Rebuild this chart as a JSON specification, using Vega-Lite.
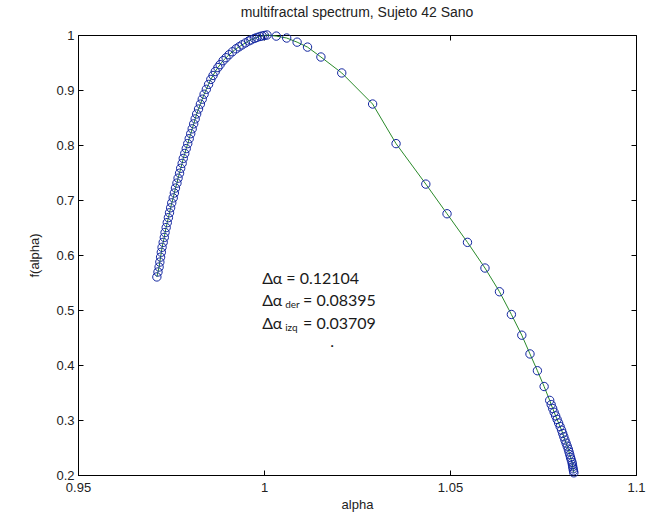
{
  "$schema": "https://vega.github.io/schema/vega-lite/v6.json",
  "width": 558,
  "height": 440,
  "autosize": {"type": "none"},
  "padding": {"left": 78, "top": 35, "right": 12, "bottom": 47},
  "background": "white",
  "title": {
    "text": "multifractal spectrum, Sujeto 42 Sano",
    "font": "Liberation Sans",
    "fontSize": 14,
    "fontWeight": "normal",
    "color": "#222222",
    "offset": 9
  },
  "config": {
    "view": {"stroke": "#000000", "strokeWidth": 1},
    "axis": {
      "grid": false,
      "domainColor": "#000000",
      "tickColor": "#000000",
      "labelFont": "Liberation Sans",
      "labelFontSize": 13,
      "labelColor": "#222222",
      "titleFont": "Liberation Sans",
      "titleFontSize": 13,
      "titleFontWeight": "normal",
      "titleColor": "#222222"
    }
  },
  "datasets": {
    "spectrum": [
      {"i": 0, "alpha": 0.9712, "f": 0.5601},
      {"i": 1, "alpha": 0.9715, "f": 0.5691},
      {"i": 2, "alpha": 0.9718, "f": 0.5781},
      {"i": 3, "alpha": 0.9720, "f": 0.5871},
      {"i": 4, "alpha": 0.9722, "f": 0.5961},
      {"i": 5, "alpha": 0.9724, "f": 0.6050},
      {"i": 6, "alpha": 0.9726, "f": 0.6140},
      {"i": 7, "alpha": 0.9729, "f": 0.6230},
      {"i": 8, "alpha": 0.9732, "f": 0.6320},
      {"i": 9, "alpha": 0.9734, "f": 0.6409},
      {"i": 10, "alpha": 0.9737, "f": 0.6499},
      {"i": 11, "alpha": 0.9740, "f": 0.6589},
      {"i": 12, "alpha": 0.9743, "f": 0.6679},
      {"i": 13, "alpha": 0.9746, "f": 0.6768},
      {"i": 14, "alpha": 0.9749, "f": 0.6858},
      {"i": 15, "alpha": 0.9752, "f": 0.6948},
      {"i": 16, "alpha": 0.9756, "f": 0.7038},
      {"i": 17, "alpha": 0.9759, "f": 0.7127},
      {"i": 18, "alpha": 0.9762, "f": 0.7217},
      {"i": 19, "alpha": 0.9766, "f": 0.7307},
      {"i": 20, "alpha": 0.9769, "f": 0.7397},
      {"i": 21, "alpha": 0.9773, "f": 0.7487},
      {"i": 22, "alpha": 0.9776, "f": 0.7576},
      {"i": 23, "alpha": 0.9780, "f": 0.7666},
      {"i": 24, "alpha": 0.9783, "f": 0.7756},
      {"i": 25, "alpha": 0.9787, "f": 0.7846},
      {"i": 26, "alpha": 0.9791, "f": 0.7935},
      {"i": 27, "alpha": 0.9795, "f": 0.8025},
      {"i": 28, "alpha": 0.9799, "f": 0.8115},
      {"i": 29, "alpha": 0.9803, "f": 0.8205},
      {"i": 30, "alpha": 0.9807, "f": 0.8294},
      {"i": 31, "alpha": 0.9811, "f": 0.8384},
      {"i": 32, "alpha": 0.9815, "f": 0.8474},
      {"i": 33, "alpha": 0.9819, "f": 0.8564},
      {"i": 34, "alpha": 0.9824, "f": 0.8654},
      {"i": 35, "alpha": 0.9829, "f": 0.8743},
      {"i": 36, "alpha": 0.9834, "f": 0.8833},
      {"i": 37, "alpha": 0.9839, "f": 0.8923},
      {"i": 38, "alpha": 0.9845, "f": 0.9013},
      {"i": 39, "alpha": 0.9851, "f": 0.9102},
      {"i": 40, "alpha": 0.9857, "f": 0.9192},
      {"i": 41, "alpha": 0.9863, "f": 0.9264},
      {"i": 42, "alpha": 0.9869, "f": 0.9336},
      {"i": 43, "alpha": 0.9876, "f": 0.9408},
      {"i": 44, "alpha": 0.9882, "f": 0.9461},
      {"i": 45, "alpha": 0.9890, "f": 0.9533},
      {"i": 46, "alpha": 0.9898, "f": 0.9587},
      {"i": 47, "alpha": 0.9906, "f": 0.9641},
      {"i": 48, "alpha": 0.9915, "f": 0.9695},
      {"i": 49, "alpha": 0.9925, "f": 0.9749},
      {"i": 50, "alpha": 0.9933, "f": 0.9785},
      {"i": 51, "alpha": 0.9941, "f": 0.9820},
      {"i": 52, "alpha": 0.9950, "f": 0.9856},
      {"i": 53, "alpha": 0.9959, "f": 0.9892},
      {"i": 54, "alpha": 0.9965, "f": 0.9910},
      {"i": 55, "alpha": 0.9974, "f": 0.9937},
      {"i": 56, "alpha": 0.9981, "f": 0.9955},
      {"i": 57, "alpha": 0.9989, "f": 0.9973},
      {"i": 58, "alpha": 0.9995, "f": 0.9982},
      {"i": 59, "alpha": 1.0001, "f": 0.9991},
      {"i": 60, "alpha": 1.0008, "f": 1.0000},
      {"i": 61, "alpha": 1.0033, "f": 0.9980},
      {"i": 62, "alpha": 1.0061, "f": 0.9945},
      {"i": 63, "alpha": 1.0089, "f": 0.9870},
      {"i": 64, "alpha": 1.0117, "f": 0.9780},
      {"i": 65, "alpha": 1.0153, "f": 0.9600},
      {"i": 66, "alpha": 1.0209, "f": 0.9310},
      {"i": 67, "alpha": 1.0292, "f": 0.8745},
      {"i": 68, "alpha": 1.0355, "f": 0.8025},
      {"i": 69, "alpha": 1.0435, "f": 0.7289},
      {"i": 70, "alpha": 1.0492, "f": 0.6750},
      {"i": 71, "alpha": 1.0547, "f": 0.6230},
      {"i": 72, "alpha": 1.0594, "f": 0.5763},
      {"i": 73, "alpha": 1.0633, "f": 0.5332},
      {"i": 74, "alpha": 1.0665, "f": 0.4919},
      {"i": 75, "alpha": 1.0693, "f": 0.4542},
      {"i": 76, "alpha": 1.0715, "f": 0.4201},
      {"i": 77, "alpha": 1.0735, "f": 0.3896},
      {"i": 78, "alpha": 1.0753, "f": 0.3609},
      {"i": 79, "alpha": 1.0768, "f": 0.3357},
      {"i": 80, "alpha": 1.0772, "f": 0.3280},
      {"i": 81, "alpha": 1.0776, "f": 0.3210},
      {"i": 82, "alpha": 1.0780, "f": 0.3140},
      {"i": 83, "alpha": 1.0784, "f": 0.3075},
      {"i": 84, "alpha": 1.0788, "f": 0.3010},
      {"i": 85, "alpha": 1.0792, "f": 0.2945},
      {"i": 86, "alpha": 1.0796, "f": 0.2880},
      {"i": 87, "alpha": 1.0800, "f": 0.2815},
      {"i": 88, "alpha": 1.0803, "f": 0.2755},
      {"i": 89, "alpha": 1.0806, "f": 0.2695},
      {"i": 90, "alpha": 1.0809, "f": 0.2635},
      {"i": 91, "alpha": 1.0812, "f": 0.2580},
      {"i": 92, "alpha": 1.0815, "f": 0.2525},
      {"i": 93, "alpha": 1.0818, "f": 0.2470},
      {"i": 94, "alpha": 1.0820, "f": 0.2420},
      {"i": 95, "alpha": 1.0822, "f": 0.2370},
      {"i": 96, "alpha": 1.0824, "f": 0.2320},
      {"i": 97, "alpha": 1.0826, "f": 0.2275},
      {"i": 98, "alpha": 1.0828, "f": 0.2230},
      {"i": 99, "alpha": 1.0829, "f": 0.2190},
      {"i": 100, "alpha": 1.0830, "f": 0.2150},
      {"i": 101, "alpha": 1.0831, "f": 0.2112},
      {"i": 102, "alpha": 1.0832, "f": 0.2075},
      {"i": 103, "alpha": 1.0833, "f": 0.2040}
    ],
    "notes": [
      {"kind": "main", "text": "Δα", "alpha": 0.9995, "f": 0.5564},
      {"kind": "main", "text": "= 0.12104", "alpha": 1.0060, "f": 0.5564},
      {"kind": "main", "text": "Δα", "alpha": 0.9995, "f": 0.5164},
      {"kind": "sub", "text": "der", "alpha": 1.0057, "f": 0.5090},
      {"kind": "main", "text": "= 0.08395", "alpha": 1.0105, "f": 0.5164},
      {"kind": "main", "text": "Δα", "alpha": 0.9995, "f": 0.4745},
      {"kind": "sub", "text": "izq", "alpha": 1.0057, "f": 0.4670},
      {"kind": "main", "text": "= 0.03709", "alpha": 1.0105, "f": 0.4745},
      {"kind": "main", "text": ".", "alpha": 1.0178, "f": 0.4411}
    ]
  },
  "layer": [
    {
      "data": {"name": "spectrum"},
      "mark": {"type": "line", "color": "#2a8a2a", "strokeWidth": 1},
      "encoding": {
        "x": {
          "field": "alpha", "type": "quantitative",
          "scale": {"domain": [0.95, 1.1], "nice": false, "zero": false},
          "axis": {"orient": "bottom", "values": [0.95, 1, 1.05, 1.1], "format": ".2~f", "tickSize": -5, "labelPadding": 11, "labelFlush": false, "labelOverlap": false, "title": "alpha", "titlePadding": 4}
        },
        "y": {
          "field": "f", "type": "quantitative",
          "scale": {"domain": [0.2, 1], "nice": false, "zero": false},
          "axis": {"orient": "left", "values": [0.2, 0.3, 0.4, 0.5, 0.6, 0.7, 0.8, 0.9, 1], "format": ".1~f", "tickSize": -5, "labelPadding": 9, "labelFlush": false, "labelOverlap": false, "title": "f(alpha)", "titlePadding": 14}
        },
        "order": {"field": "i", "type": "quantitative"}
      }
    },
    {
      "data": {"name": "spectrum"},
      "mark": {"type": "point", "shape": "circle", "filled": false, "size": 70, "stroke": "#1226a0", "strokeWidth": 1, "opacity": 1},
      "encoding": {
        "x": {
          "field": "alpha", "type": "quantitative",
          "scale": {"domain": [0.95, 1.1], "nice": false, "zero": false},
          "axis": {"orient": "top", "values": [0.95, 1, 1.05, 1.1], "tickSize": -5, "labels": false, "domain": false, "title": null}
        },
        "y": {
          "field": "f", "type": "quantitative",
          "scale": {"domain": [0.2, 1], "nice": false, "zero": false},
          "axis": {"orient": "right", "values": [0.2, 0.3, 0.4, 0.5, 0.6, 0.7, 0.8, 0.9, 1], "tickSize": -5, "labels": false, "domain": false, "title": null}
        }
      }
    },
    {
      "data": {"name": "notes"},
      "transform": [{"filter": "datum.kind === 'main'"}],
      "mark": {"type": "text", "align": "left", "baseline": "middle", "font": "Lato", "fontSize": 16, "color": "#1a1a1a"},
      "encoding": {
        "x": {"field": "alpha", "type": "quantitative", "scale": {"domain": [0.95, 1.1], "nice": false, "zero": false}, "axis": null},
        "y": {"field": "f", "type": "quantitative", "scale": {"domain": [0.2, 1], "nice": false, "zero": false}, "axis": null},
        "text": {"field": "text"}
      }
    },
    {
      "data": {"name": "notes"},
      "transform": [{"filter": "datum.kind === 'sub'"}],
      "mark": {"type": "text", "align": "left", "baseline": "middle", "font": "Lato", "fontSize": 10, "color": "#1a1a1a"},
      "encoding": {
        "x": {"field": "alpha", "type": "quantitative", "scale": {"domain": [0.95, 1.1], "nice": false, "zero": false}, "axis": null},
        "y": {"field": "f", "type": "quantitative", "scale": {"domain": [0.2, 1], "nice": false, "zero": false}, "axis": null},
        "text": {"field": "text"}
      }
    }
  ],
  "resolve": {"axis": {"x": "independent", "y": "independent"}}
}
